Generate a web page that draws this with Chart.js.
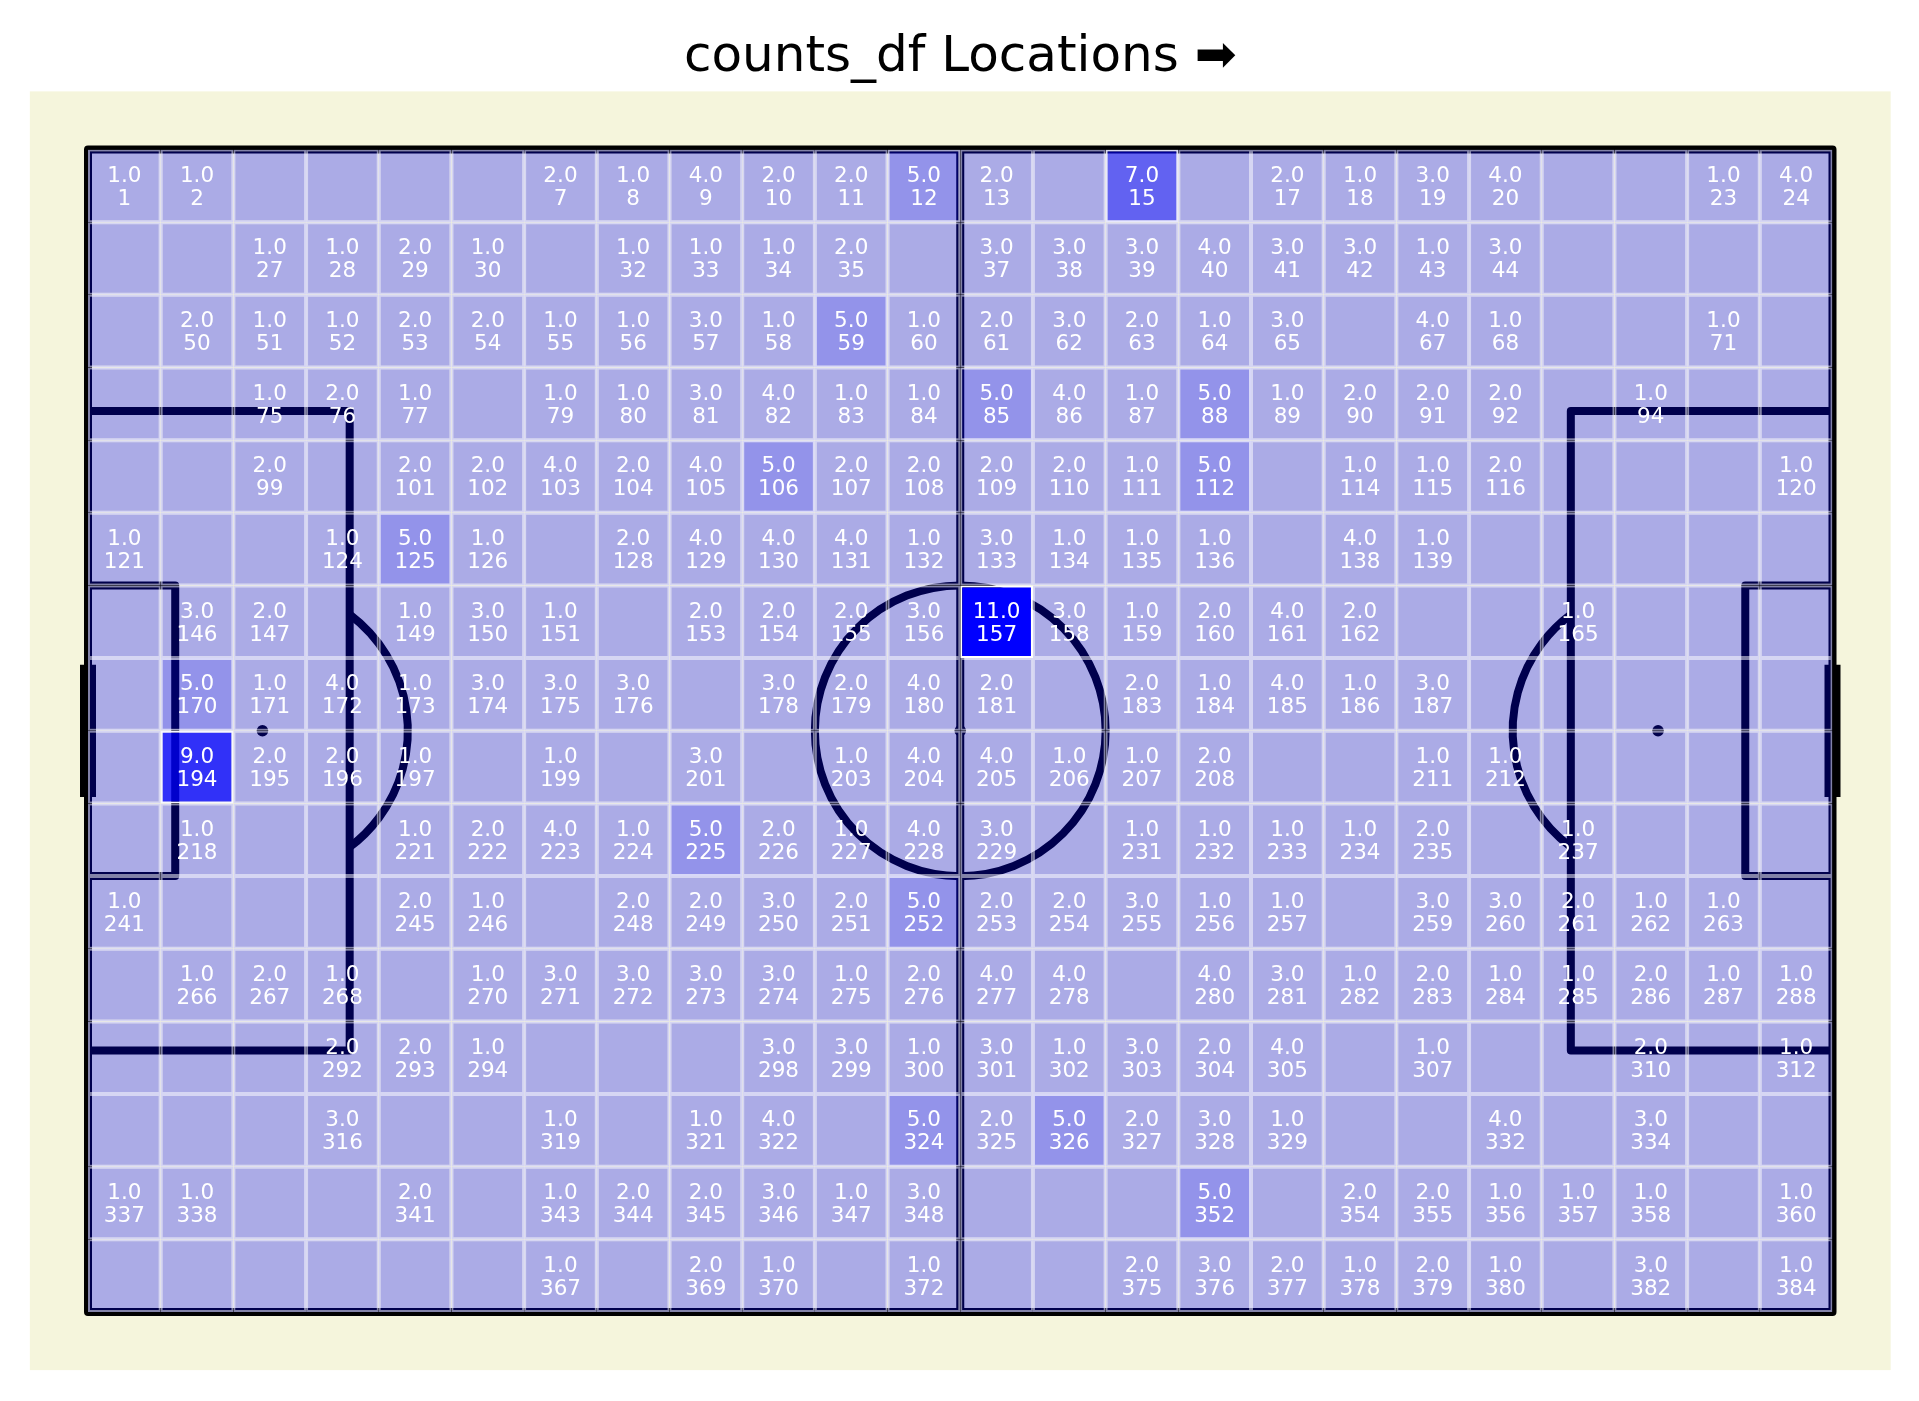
<!DOCTYPE html>
<html>
<head>
<meta charset="utf-8">
<script src="https://cdn.jsdelivr.net/npm/chart.js@4.4.1/dist/chart.umd.min.js"></script>
<style>
html, body { margin: 0; padding: 0; background: #ffffff; }
canvas { display: block; }
</style>
</head>
<body>
<canvas id="c" width="1919" height="1401"></canvas>
<script>
// ---------------- data ----------------
const titleText = 'counts_df Locations \u27A1';
const nCols = 24;
const nRows = 16;
const pitchLength = 120;
const pitchWidth = 80;

// cell numbers (1..384, row-major from top-left) that have a count
const cellIds = [
  1, 2, 7, 8, 9, 10, 11, 12, 13, 15, 17, 18, 19, 20, 23, 24,
  27, 28, 29, 30, 32, 33, 34, 35, 37, 38, 39, 40, 41, 42, 43, 44,
  50, 51, 52, 53, 54, 55, 56, 57, 58, 59, 60, 61, 62, 63, 64, 65, 67, 68, 71,
  75, 76, 77, 79, 80, 81, 82, 83, 84, 85, 86, 87, 88, 89, 90, 91, 92, 94,
  99, 101, 102, 103, 104, 105, 106, 107, 108, 109, 110, 111, 112, 114, 115, 116, 120,
  121, 124, 125, 126, 128, 129, 130, 131, 132, 133, 134, 135, 136, 138, 139,
  146, 147, 149, 150, 151, 153, 154, 155, 156, 157, 158, 159, 160, 161, 162, 165,
  170, 171, 172, 173, 174, 175, 176, 178, 179, 180, 181, 183, 184, 185, 186, 187,
  194, 195, 196, 197, 199, 201, 203, 204, 205, 206, 207, 208, 211, 212,
  218, 221, 222, 223, 224, 225, 226, 227, 228, 229, 231, 232, 233, 234, 235, 237,
  241, 245, 246, 248, 249, 250, 251, 252, 253, 254, 255, 256, 257, 259, 260, 261, 262, 263,
  266, 267, 268, 270, 271, 272, 273, 274, 275, 276, 277, 278, 280, 281, 282, 283, 284, 285, 286, 287, 288,
  292, 293, 294, 298, 299, 300, 301, 302, 303, 304, 305, 307, 310, 312,
  316, 319, 321, 322, 324, 325, 326, 327, 328, 329, 332, 334,
  337, 338, 341, 343, 344, 345, 346, 347, 348, 352, 354, 355, 356, 357, 358, 360,
  367, 369, 370, 372, 375, 376, 377, 378, 379, 380, 382, 384
];
const cellCounts = [
  1, 1, 2, 1, 4, 2, 2, 5, 2, 7, 2, 1, 3, 4, 1, 4,
  1, 1, 2, 1, 1, 1, 1, 2, 3, 3, 3, 4, 3, 3, 1, 3,
  2, 1, 1, 2, 2, 1, 1, 3, 1, 5, 1, 2, 3, 2, 1, 3, 4, 1, 1,
  1, 2, 1, 1, 1, 3, 4, 1, 1, 5, 4, 1, 5, 1, 2, 2, 2, 1,
  2, 2, 2, 4, 2, 4, 5, 2, 2, 2, 2, 1, 5, 1, 1, 2, 1,
  1, 1, 5, 1, 2, 4, 4, 4, 1, 3, 1, 1, 1, 4, 1,
  3, 2, 1, 3, 1, 2, 2, 2, 3, 11, 3, 1, 2, 4, 2, 1,
  5, 1, 4, 1, 3, 3, 3, 3, 2, 4, 2, 2, 1, 4, 1, 3,
  9, 2, 2, 1, 1, 3, 1, 4, 4, 1, 1, 2, 1, 1,
  1, 1, 2, 4, 1, 5, 2, 1, 4, 3, 1, 1, 1, 1, 2, 1,
  1, 2, 1, 2, 2, 3, 2, 5, 2, 2, 3, 1, 1, 3, 3, 2, 1, 1,
  1, 2, 1, 1, 3, 3, 3, 3, 1, 2, 4, 4, 4, 3, 1, 2, 1, 1, 2, 1, 1,
  2, 2, 1, 3, 3, 1, 3, 1, 3, 2, 4, 1, 2, 1,
  3, 1, 1, 4, 5, 2, 5, 2, 3, 1, 4, 3,
  1, 1, 2, 1, 2, 2, 3, 1, 3, 5, 2, 2, 1, 1, 1, 1,
  1, 2, 1, 1, 2, 3, 2, 1, 2, 1, 3, 1
];

// ---------------- build cells ----------------
const cellW = pitchLength / nCols;
const cellH = pitchWidth / nRows;
const countById = new Map(cellIds.map((id, i) => [id, cellCounts[i]]));
const cells = [];
for (let id = 1; id <= nCols * nRows; id++) {
  const r = Math.floor((id - 1) / nCols);
  const c = (id - 1) % nCols;
  cells.push({ x: (c + 0.5) * cellW, y: [r * cellH, (r + 1) * cellH], id: id, v: countById.get(id) || 0 });
}

function alphaFor(v) { return Math.min(1, Math.max(0.3, (v - 1) / 10)); }
function fillColor(v) { return 'rgba(0,0,255,' + alphaFor(v).toFixed(3) + ')'; }
function edgeColor(v) {
  const a = alphaFor(v);
  // blue fill + two white edge layers, composited into one rgba
  let C = [0, 0, 255 * a];
  for (let k = 0; k < 2; k++) C = C.map(ch => 255 * a + (1 - a) * ch);
  const A = 1 - Math.pow(1 - a, 3);
  const col = C.map(ch => Math.round(Math.min(255, ch / A)));
  return 'rgba(' + col[0] + ',' + col[1] + ',' + col[2] + ',' + A.toFixed(3) + ')';
}

// ---------------- pitch drawing plugin ----------------
const pitchPlugin = {
  id: 'pitch',
  beforeDatasetsDraw(chart) {
    const ctx = chart.ctx;
    const xs = chart.scales.x, ys = chart.scales.y;
    const px = v => xs.getPixelForValue(v);
    const py = v => ys.getPixelForValue(v);
    const unit = px(1) - px(0);
    ctx.save();
    // pad / pitch background
    ctx.fillStyle = '#f5f5dc';
    ctx.fillRect(px(-4), py(-4), px(pitchLength + 4) - px(-4), py(pitchWidth + 4) - py(-4));

    ctx.strokeStyle = '#000000';
    ctx.lineWidth = 8;
    ctx.lineJoin = 'round';
    ctx.lineCap = 'butt';
    const poly = pts => {
      ctx.beginPath();
      pts.forEach((p, i) => i ? ctx.lineTo(px(p[0]), py(p[1])) : ctx.moveTo(px(p[0]), py(p[1])));
      ctx.stroke();
    };
    // outline
    ctx.beginPath();
    ctx.rect(px(0), py(0), px(pitchLength) - px(0), py(pitchWidth) - py(0));
    ctx.stroke();
    // halfway line
    poly([[60, 0], [60, 80]]);
    // penalty areas & six-yard boxes
    poly([[0, 18], [18, 18], [18, 62], [0, 62]]);
    poly([[0, 30], [6, 30], [6, 50], [0, 50]]);
    poly([[120, 18], [102, 18], [102, 62], [120, 62]]);
    poly([[120, 30], [114, 30], [114, 50], [120, 50]]);
    // centre circle
    ctx.beginPath();
    ctx.arc(px(60), py(40), 10 * unit, 0, Math.PI * 2);
    ctx.stroke();
    // penalty arcs
    const ang = Math.acos(6 / 10);
    ctx.beginPath();
    ctx.arc(px(12), py(40), 10 * unit, -ang, ang);
    ctx.stroke();
    ctx.beginPath();
    ctx.arc(px(108), py(40), 10 * unit, Math.PI - ang, Math.PI + ang);
    ctx.stroke();
    // spots
    ctx.fillStyle = '#000000';
    [[12, 40], [108, 40], [60, 40]].forEach(p => {
      ctx.beginPath();
      ctx.arc(px(p[0]), py(p[1]), 0.4 * unit, 0, Math.PI * 2);
      ctx.fill();
    });
    // goals
    ctx.lineWidth = 16;
    ctx.lineCap = 'square';
    poly([[0, 36], [0, 44]]);
    poly([[120, 36], [120, 44]]);
    ctx.restore();
  },
  afterDatasetsDraw(chart) {
    const ctx = chart.ctx;
    const meta = chart.getDatasetMeta(0);
    ctx.save();
    ctx.fillStyle = '#ffffff';
    ctx.font = '21.5px "DejaVu Sans"';
    ctx.textAlign = 'center';
    ctx.textBaseline = 'alphabetic';
    meta.data.forEach((el, i) => {
      const c = cells[i];
      if (!c.v) return;
      const pt = el.getCenterPoint();
      ctx.fillText(c.v.toFixed(1), pt.x, pt.y - 4);
      ctx.fillText(String(c.id), pt.x, pt.y + 19);
    });
    ctx.restore();
  }
};

// ---------------- chart ----------------
new Chart(document.getElementById('c'), {
  type: 'bar',
  data: {
    datasets: [{
      label: 'counts',
      data: cells.map(c => ({ x: c.x, y: c.y })),
      backgroundColor: cells.map(c => fillColor(c.v)),
      borderColor: cells.map(c => edgeColor(c.v)),
      borderWidth: 2,
      borderSkipped: false,
      borderRadius: 0,
      inflateAmount: 0,
      barPercentage: 1,
      categoryPercentage: 1
    }]
  },
  options: {
    responsive: false,
    devicePixelRatio: 1,
    animation: false,
    events: [],
    layout: { padding: { left: 88, right: 86.5, top: 0, bottom: 89 } },
    scales: {
      x: {
        type: 'linear', min: 0, max: pitchLength, offset: false, display: false,
        grid: { offset: false }, ticks: { stepSize: 20 }
      },
      y: {
        type: 'linear', min: 0, max: pitchWidth, reverse: true, display: false,
        ticks: { stepSize: 20 }
      }
    },
    plugins: {
      legend: { display: false },
      tooltip: { enabled: false },
      title: {
        display: true,
        text: titleText,
        color: '#000000',
        font: { family: 'DejaVu Sans', size: 50, weight: 'normal', lineHeight: 1.2 },
        padding: { top: 28, bottom: 61.5 }
      }
    }
  },
  plugins: [pitchPlugin]
});
</script>
</body>
</html>
